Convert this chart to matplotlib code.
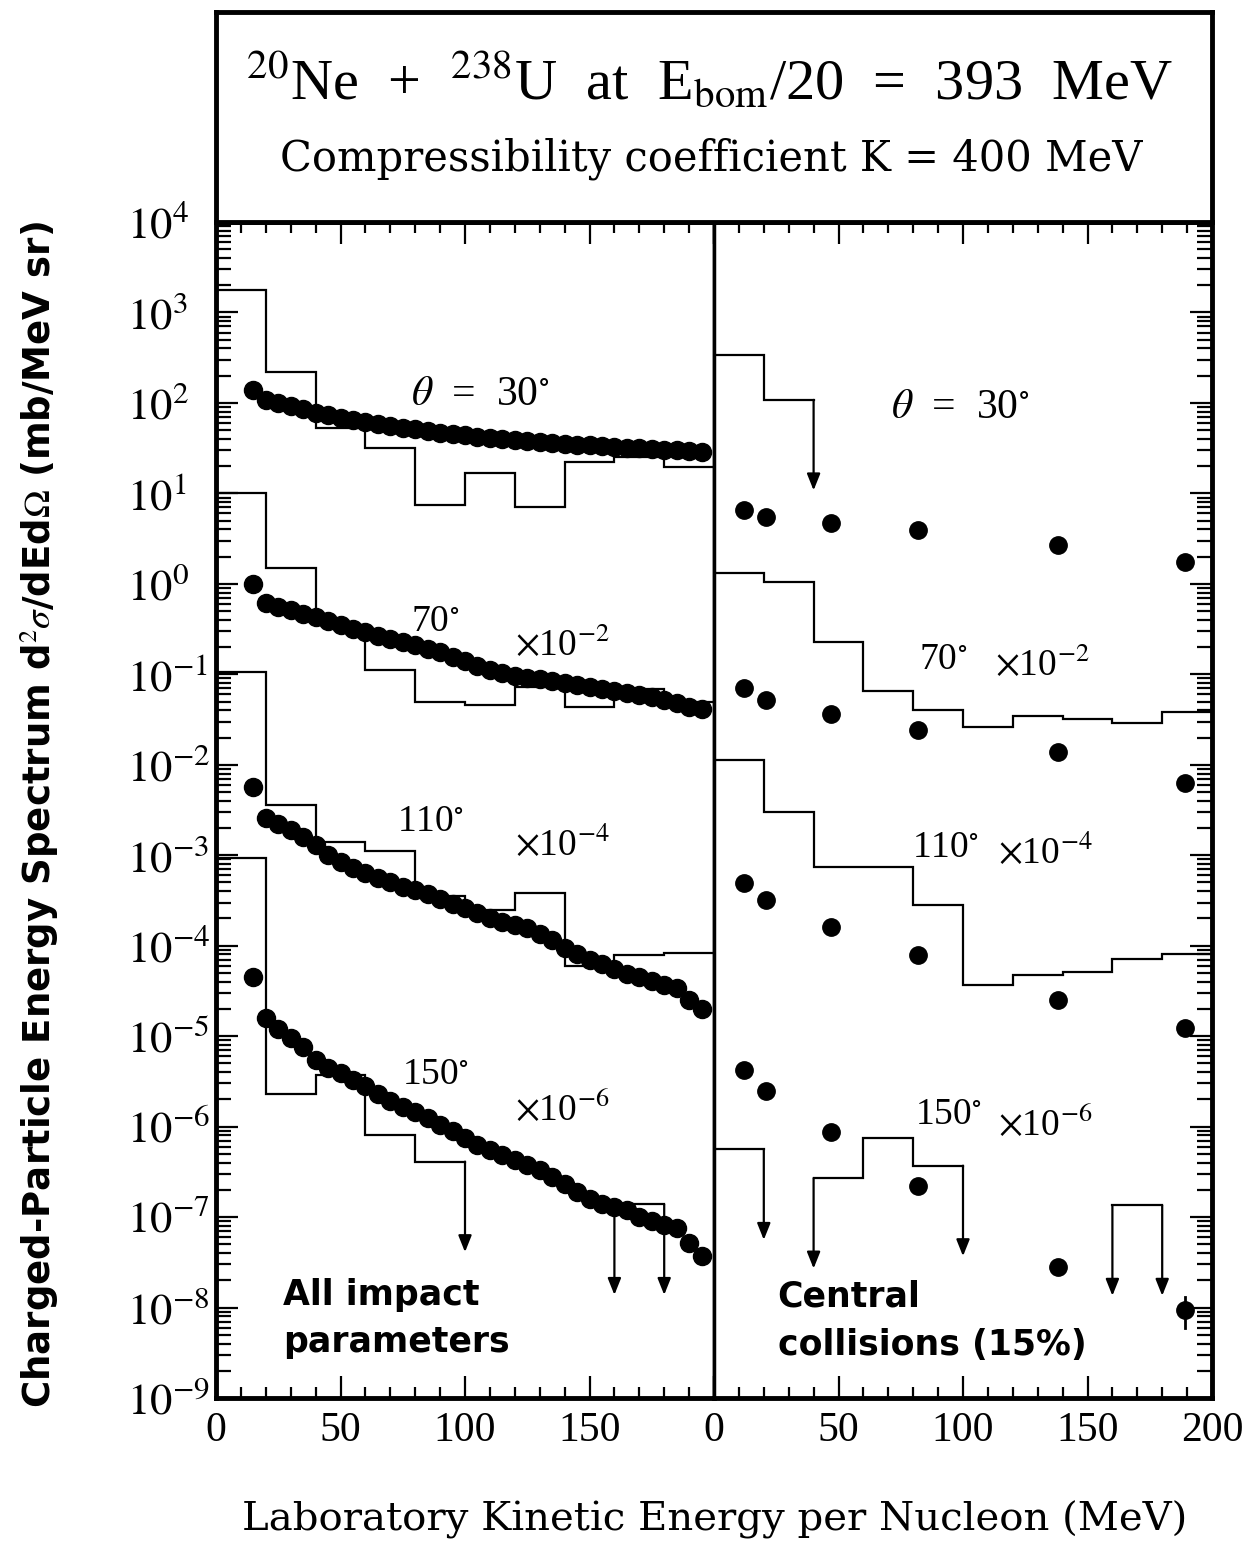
import numpy as np
import matplotlib
matplotlib.use("Agg")
import matplotlib.pyplot as plt
from matplotlib.ticker import MultipleLocator, LogLocator, NullFormatter

plt.rcParams['font.family'] = ['Liberation Serif', 'DejaVu Serif']
plt.rcParams['mathtext.fontset'] = 'stix'

# ---- data (values as plotted, i.e. already multiplied by the factor shown) ----
# all impact parameters, measured points
e_all = [15, 20, 25, 30, 35, 40, 45, 50, 55, 60, 65, 70, 75, 80, 85, 90, 95, 100, 105,
         110, 115, 120, 125, 130, 135, 140, 145, 150, 155, 160, 165, 170, 175, 180,
         185, 190, 195]
all_30 = [139, 108, 100, 92, 85, 78, 73, 68, 65, 61, 58, 56, 53, 51, 49, 47, 45, 44, 42,
          41, 40, 39, 38, 37, 36, 35, 34.5, 34, 33, 32.5, 32, 31.5, 31, 30.5, 30, 29.5, 29]
all_70 = [1.0, 0.62, 0.56, 0.51, 0.47, 0.43, 0.39, 0.35, 0.32, 0.29, 0.265, 0.245, 0.225,
          0.21, 0.19, 0.175, 0.155, 0.14, 0.125, 0.112, 0.103, 0.097, 0.092, 0.088, 0.084,
          0.080, 0.076, 0.072, 0.068, 0.065, 0.062, 0.059, 0.056, 0.052, 0.048, 0.044, 0.041]
all_110 = [5.7e-3, 2.6e-3, 2.2e-3, 1.9e-3, 1.6e-3, 1.3e-3, 1.0e-3, 8.5e-4, 7.3e-4, 6.4e-4,
           5.6e-4, 5.0e-4, 4.5e-4, 4.1e-4, 3.7e-4, 3.3e-4, 2.9e-4, 2.6e-4, 2.3e-4, 2.0e-4,
           1.85e-4, 1.7e-4, 1.55e-4, 1.35e-4, 1.15e-4, 9.5e-5, 8.0e-5, 7.0e-5, 6.2e-5, 5.5e-5,
           4.9e-5, 4.5e-5, 4.1e-5, 3.7e-5, 3.4e-5, 2.5e-5, 2.0e-5]
all_150 = [4.5e-5, 1.6e-5, 1.2e-5, 9.5e-6, 7.5e-6, 5.5e-6, 4.5e-6, 3.9e-6, 3.3e-6, 2.8e-6,
           2.3e-6, 1.9e-6, 1.65e-6, 1.45e-6, 1.25e-6, 1.05e-6, 9.0e-7, 7.5e-7, 6.3e-7, 5.5e-7,
           4.8e-7, 4.3e-7, 3.8e-7, 3.3e-7, 2.8e-7, 2.3e-7, 1.9e-7, 1.6e-7, 1.4e-7, 1.3e-7,
           1.2e-7, 1.0e-7, 9.0e-8, 8.2e-8, 7.6e-8, 5.2e-8, 3.7e-8]

# central collisions, measured points
e_cen = [12, 21, 47, 82, 138, 189]
cen_30 = [6.6, 5.5, 4.7, 3.9, 2.7, 1.74]
cen_70 = [0.071, 0.052, 0.036, 0.024, 0.0138, 0.0063]
cen_110 = [4.9e-4, 3.2e-4, 1.6e-4, 7.9e-5, 2.5e-5, 1.23e-5]
cen_150 = [4.2e-6, 2.5e-6, 8.7e-7, 2.2e-7, 2.8e-8, 9.3e-9]
cen_150_last_err = [6.0e-9, 1.3e-8]

# calculated histograms (20 MeV bins), nan = empty bin (upper limit arrow)
nan = np.nan
bin_edges = [0, 20, 40, 60, 80, 100, 120, 140, 160, 180, 200]
hist_all_30 = [1780, 220, 53, 32, 7.4, 16.8, 7.1, 22, 25, 19.5]
hist_all_70 = [10, 1.5, 0.35, 0.112, 0.049, 0.046, 0.072, 0.044, 0.068, 0.05]
hist_all_110 = [0.107, 3.6e-3, 1.4e-3, 1.1e-3, 3.5e-4, 2.5e-4, 3.8e-4, 6.0e-5, 7.8e-5, 8.3e-5]
hist_all_150 = [9.3e-4, 2.3e-6, 3.7e-6, 8.1e-7, 4.1e-7, nan, nan, nan, 1.38e-7, nan]

hist_cen_30 = [340, 108, nan, nan, nan, nan, nan, nan, nan, nan]
hist_cen_70 = [1.32, 1.05, 0.23, 0.066, 0.040, 0.026, 0.035, 0.032, 0.029, 0.038]
hist_cen_110 = [0.0112, 0.0030, 7.4e-4, 7.4e-4, 2.8e-4, 3.7e-5, 4.7e-5, 5.1e-5, 7.2e-5, 8.1e-5]
hist_cen_150 = [5.6e-7, nan, 2.7e-7, 7.4e-7, 3.7e-7, nan, nan, nan, 1.35e-7, nan]

decades = [1e-9, 1e-8, 1e-7, 1e-6, 1e-5, 1e-4, 1e-3, 1e-2, 1e-1, 1e0, 1e1, 1e2, 1e3, 1e4]
ytick_labels = ['$10^{-9}$', '$10^{-8}$', '$10^{-7}$', '$10^{-6}$', '$10^{-5}$', '$10^{-4}$',
                '$10^{-3}$', '$10^{-2}$', '$10^{-1}$', '$10^{0}$', '$10^{1}$', '$10^{2}$',
                '$10^{3}$', '$10^{4}$']


def draw_arrow(ax, x, v):
    ax.annotate('', xy=(x, v * 0.1), xytext=(x, v),
                arrowprops=dict(arrowstyle='-|>,head_length=1.0,head_width=0.4',
                                color='k', lw=1.6, shrinkA=0, shrinkB=0),
                annotation_clip=False, zorder=2)


def draw_hist(ax, edges, vals):
    n = len(vals)
    i = 0
    while i < n:
        if np.isnan(vals[i]):
            i += 1
            continue
        s = i
        xs, ys = [], []
        while i < n and not np.isnan(vals[i]):
            xs += [edges[i], edges[i + 1]]
            ys += [vals[i], vals[i]]
            i += 1
        ax.plot(xs, ys, color='k', lw=1.6, solid_joinstyle='miter', zorder=2)
        # upper-limit arrows where the neighbouring bin is empty
        if s > 0:
            draw_arrow(ax, edges[s], vals[s])
        if i < n:
            draw_arrow(ax, edges[i], vals[i - 1])


W, H = 1251, 1563
fig = plt.figure(figsize=(W / 100, H / 100), dpi=100)
axL = fig.add_axes([216 / W, 1 - 1398 / H, 498 / W, 1176 / H])
axR = fig.add_axes([714 / W, 1 - 1398 / H, 498 / W, 1176 / H])
axT = fig.add_axes([216 / W, 1 - 222 / H, 996 / W, 210 / H])

for ax in (axL, axR):
    ax.set_yscale('log')
    ax.set_ylim(1e-9, 1e4)
    ax.set_xlim(0, 200)
    ax.xaxis.set_major_locator(MultipleLocator(50))
    ax.xaxis.set_minor_locator(MultipleLocator(10))
    ax.yaxis.set_minor_locator(LogLocator(base=10, subs=np.arange(2, 10), numticks=100))
    ax.yaxis.set_minor_formatter(NullFormatter())
    ax.tick_params(axis='x', which='both', direction='in', top=True, bottom=True)
    ax.tick_params(axis='x', which='major', length=16, width=1.6, labelsize=30, pad=10)
    ax.tick_params(axis='x', which='minor', length=8, width=1.6)
    for sp in ax.spines.values():
        sp.set_linewidth(3.5)

axL.set_xticks([0, 50, 100, 150, 200], ['0', '50', '100', '150', ''])
axR.set_xticks([0, 50, 100, 150, 200], ['0', '50', '100', '150', '200'])

axL.set_yticks(decades)
labs = axL.set_yticklabels(ytick_labels)
for lab in labs:
    lab.set_horizontalalignment('left')
axL.tick_params(axis='y', which='both', direction='in', left=True, right=False,
                labelsize=32, pad=64)
axL.tick_params(axis='y', which='major', length=16, width=1.6)
axL.tick_params(axis='y', which='minor', length=11, width=1.6)
axL.spines['right'].set_linewidth(2.5)

axR.set_yticks(decades)
axR.tick_params(axis='y', which='both', direction='in', left=False, right=True,
                labelleft=False)
axR.tick_params(axis='y', which='major', length=16, width=1.6)
axR.tick_params(axis='y', which='minor', length=11, width=1.6)
axR.spines['left'].set_linewidth(2.5)

# histograms and points
for h in (hist_all_30, hist_all_70, hist_all_110, hist_all_150):
    draw_hist(axL, bin_edges, h)
for h in (hist_cen_30, hist_cen_70, hist_cen_110, hist_cen_150):
    draw_hist(axR, bin_edges, h)

for s in (all_30, all_70, all_110, all_150):
    axL.plot(e_all, s, 'o', color='k', ms=13, zorder=3, clip_on=False)
for s in (cen_30, cen_70, cen_110, cen_150):
    axR.plot(e_cen, s, 'o', color='k', ms=12.5, zorder=3, clip_on=False)
axR.plot([e_cen[-1]] * 2, cen_150_last_err, color='k', lw=2, zorder=3)

# labels in the panels
lab_kw = dict(fontsize=27, ha='center', va='center')
axL.text(0.53, 0.853, r'$\theta$  =  30$^{\circ}$', transform=axL.transAxes,
         fontsize=30, ha='center', va='center')
axL.text(0.44, 0.660, r'70$^{\circ}$', transform=axL.transAxes, **lab_kw)
axL.text(0.695, 0.640, r'$\times$10$^{-2}$', transform=axL.transAxes, **lab_kw)
axL.text(0.43, 0.490, r'110$^{\circ}$', transform=axL.transAxes, **lab_kw)
axL.text(0.695, 0.470, r'$\times$10$^{-4}$', transform=axL.transAxes, **lab_kw)
axL.text(0.44, 0.275, r'150$^{\circ}$', transform=axL.transAxes, **lab_kw)
axL.text(0.695, 0.245, r'$\times$10$^{-6}$', transform=axL.transAxes, **lab_kw)

axR.text(0.494, 0.842, r'$\theta$  =  30$^{\circ}$', transform=axR.transAxes,
         fontsize=30, ha='center', va='center')
axR.text(0.46, 0.628, r'70$^{\circ}$', transform=axR.transAxes, **lab_kw)
axR.text(0.659, 0.623, r'$\times$10$^{-2}$', transform=axR.transAxes, **lab_kw)
axR.text(0.464, 0.468, r'110$^{\circ}$', transform=axR.transAxes, **lab_kw)
axR.text(0.665, 0.463, r'$\times$10$^{-4}$', transform=axR.transAxes, **lab_kw)
axR.text(0.47, 0.241, r'150$^{\circ}$', transform=axR.transAxes, **lab_kw)
axR.text(0.665, 0.232, r'$\times$10$^{-6}$', transform=axR.transAxes, **lab_kw)

sans_kw = dict(fontsize=25, fontweight='bold', family='DejaVu Sans', ha='left', va='center')
axL.text(0.135, 0.088, 'All impact', transform=axL.transAxes, **sans_kw)
axL.text(0.135, 0.048, 'parameters', transform=axL.transAxes, **sans_kw)
axR.text(0.128, 0.086, 'Central', transform=axR.transAxes, **sans_kw)
axR.text(0.128, 0.045, 'collisions (15%)', transform=axR.transAxes, **sans_kw)

# title box
axT.set_xticks([])
axT.set_yticks([])
for sp in axT.spines.values():
    sp.set_linewidth(3.5)
axT.text(0.495, 0.67, r'$^{20}$Ne  +  $^{238}$U  at  E$_{\rm bom}$/20  =  393  MeV',
         transform=axT.transAxes, fontsize=42, ha='center', va='center')
axT.text(0.497, 0.30, 'Compressibility coefficient K = 400 MeV', family='DejaVu Serif',
         transform=axT.transAxes, fontsize=30, ha='center', va='center')

fig.text(40 / W, 1 - 815 / H,
         r'Charged-Particle Energy Spectrum d$^2\sigma$/dEd$\Omega$ (mb/MeV sr)',
         rotation=90, ha='center', va='center', fontsize=26.7, fontweight='bold',
         family='DejaVu Sans')
fig.text(715 / W, 1 - 1520 / H, 'Laboratory Kinetic Energy per Nucleon (MeV)',
         ha='center', va='center', fontsize=29, family='DejaVu Serif')

fig.savefig('out.png', dpi=100)
